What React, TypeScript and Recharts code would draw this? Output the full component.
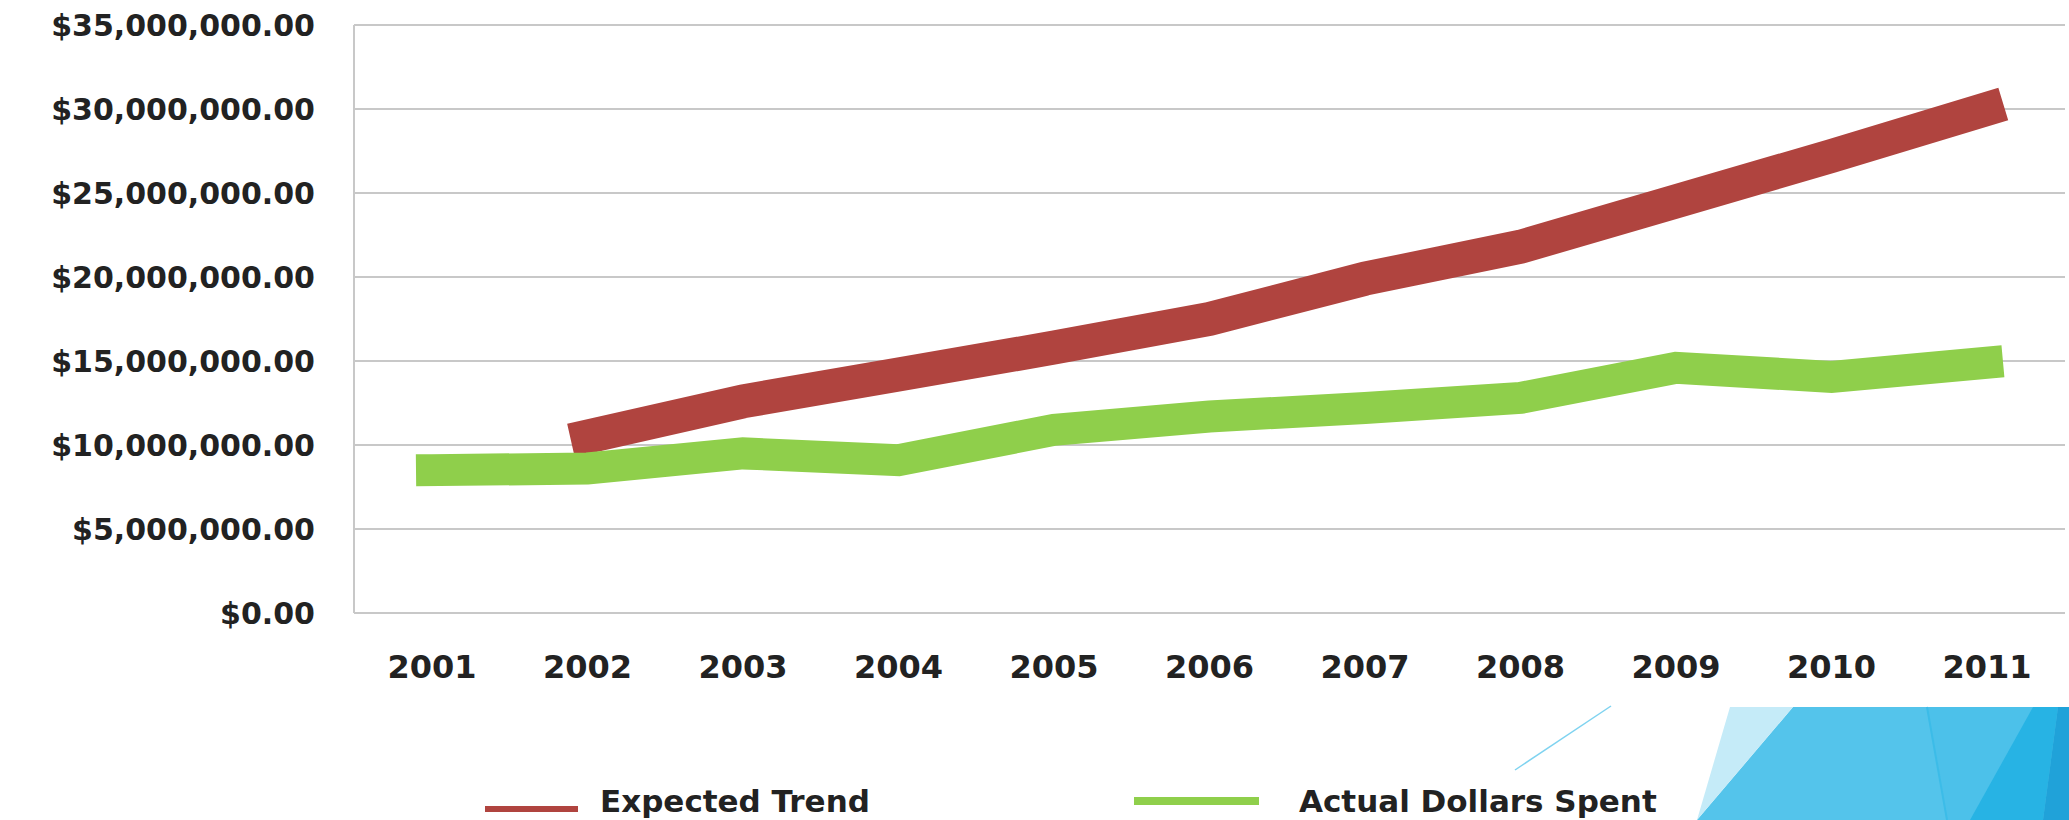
import React from "react";
import {
  LineChart,
  Line,
  XAxis,
  YAxis,
  CartesianGrid,
  Legend,
} from "recharts";

// values
const years = ["2001", "2002", "2003", "2004", "2005", "2006", "2007", "2008", "2009", "2010", "2011"];
const expectedTrend: (number | null)[] = [
  null, 10500000, 12600000, 14200000, 15800000, 17500000, 19900000, 21800000, 24500000, 27200000, 30000000,
];
const actualSpent = [
  8500000, 8600000, 9500000, 9100000, 10900000, 11700000, 12200000, 12800000, 14600000, 14050000, 14900000,
];
const yTicks = [0, 5000000, 10000000, 15000000, 20000000, 25000000, 30000000, 35000000];

const RED = "#b0443f";
const GREEN = "#8fcf4b";
const GRID = "#c8c8c8";
const FONT = "'DejaVu Sans', sans-serif";

const data = years.map((year, i) => ({
  year,
  expected: expectedTrend[i],
  actual: actualSpent[i],
}));

const money = (v: number) =>
  "$" + v.toLocaleString("en-US", { minimumFractionDigits: 2, maximumFractionDigits: 2 });

// y tick drawn by hand so the gap to the axis is exact
const YTick = (props: any) => {
  const { x, y, payload } = props;
  return (
    <text
      x={x - 39}
      y={y}
      dy="0.355em"
      textAnchor="end"
      fontFamily={FONT}
      fontSize={30}
      fontWeight="bold"
      fill="#222"
    >
      {money(payload.value)}
    </text>
  );
};

const labelStyle: React.CSSProperties = {
  position: "absolute",
  top: 6,
  fontSize: 31,
  lineHeight: "30px",
  fontWeight: "bold",
  color: "#222",
  whiteSpace: "nowrap",
};

const renderLegend = () => (
  <div style={{ position: "relative", width: 2069, height: 40, fontFamily: FONT }}>
    <div style={{ position: "absolute", left: 485, top: 26, width: 93, height: 6, background: RED }} />
    <div style={{ ...labelStyle, left: 600 }}>Expected Trend</div>
    <div style={{ position: "absolute", left: 1134, top: 17, width: 125, height: 8, background: GREEN }} />
    <div style={{ ...labelStyle, left: 1299 }}>Actual Dollars Spent</div>
  </div>
);

export default function App() {
  return (
    <div
      style={{
        position: "absolute", left: 0, top: 0, width: 2069, height: 820,
        background: "#fff", overflow: "hidden",
      }}
    >
      <LineChart width={2069} height={820} data={data} margin={{ top: 25, right: 4, bottom: 147, left: 0 }}>
        <CartesianGrid vertical={false} stroke={GRID} strokeWidth={2} />
        <XAxis
          dataKey="year"
          padding={{ left: 78, right: 78 }}
          height={60}
          tickSize={0}
          tickMargin={42}
          axisLine={{ stroke: GRID, strokeWidth: 2 }}
          tickLine={false}
          tick={{ fontFamily: FONT, fontSize: 32, fontWeight: "bold", fill: "#222" }}
        />
        <YAxis
          width={354}
          domain={[0, 35000000]}
          ticks={yTicks}
          tickSize={0}
          tickMargin={0}
          axisLine={{ stroke: GRID, strokeWidth: 2 }}
          tickLine={false}
          tick={<YTick />}
        />
        <Legend
          layout="horizontal"
          verticalAlign="middle"
          align="center"
          wrapperStyle={{ top: 780, left: 0, width: 2069 }}
          content={renderLegend}
        />
        <Line
          name="Expected Trend"
          dataKey="expected"
          type="linear"
          stroke={RED}
          strokeWidth={34}
          strokeLinecap="square"
          dot={false}
          activeDot={false}
          isAnimationActive={false}
        />
        <Line
          name="Actual Dollars Spent"
          dataKey="actual"
          type="linear"
          stroke={GREEN}
          strokeWidth={32}
          strokeLinecap="square"
          dot={false}
          activeDot={false}
          isAnimationActive={false}
        />
      </LineChart>
      {/* slide decoration in the bottom right corner */}
      <svg
        width={2069}
        height={820}
        style={{ position: "absolute", left: 0, top: 0, pointerEvents: "none" }}
      >
        <line x1={1515} y1={770} x2={1611} y2={706} stroke="#7fd3f0" strokeWidth={1.5} />
        <polygon points="1793,707 2069,707 2069,820 1697,820" fill="#54c4eb" />
        <polygon points="1730,707 1793,707 1697,820" fill="#c5ebf8" />
        <polygon points="1927,707 2033,707 1970,820 1947,820" fill="#4cc1ea" />
        <line x1={1927} y1={707} x2={1947} y2={820} stroke="#3cbce8" strokeWidth={2} />
        <polygon points="2033,707 2058,707 2043,820 1970,820" fill="#27b3e4" />
        <polygon points="2058,707 2069,707 2069,820 2043,820" fill="#20a2d9" />
      </svg>
    </div>
  );
}
